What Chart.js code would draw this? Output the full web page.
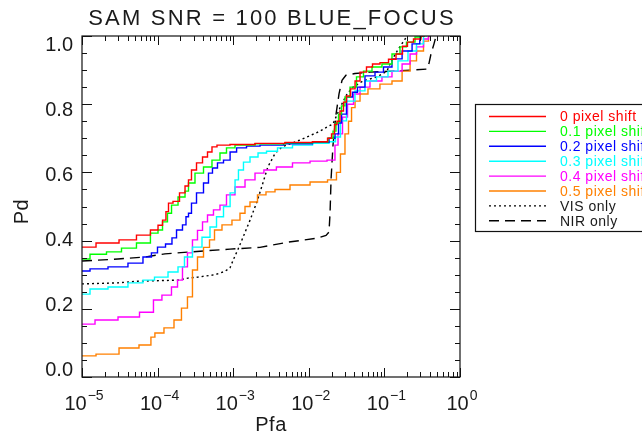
<!DOCTYPE html>
<html>
<head>
<meta charset="utf-8">
<script src="https://cdn.jsdelivr.net/npm/chart.js@4.4.1/dist/chart.umd.min.js"></script>
<style>
  html, body { margin: 0; padding: 0; background: #fff; }
  canvas { display: block; }
</style>
</head>
<body>
<canvas id="rocChart" width="642" height="436"></canvas>
<script>
const chartTitle = "SAM SNR = 100 BLUE_FOCUS";
const xTitle = "Pfa";
const yTitle = "Pd";
const xExponents = [-5, -4, -3, -2, -1, 0];
const yTickLabels = ["0.0", "0.2", "0.4", "0.6", "0.8", "1.0"];
const seriesLabels = ["0 pixel shift", "0.1 pixel shift", "0.2 pixel shift", "0.3 pixel shift",
    "0.4 pixel shift", "0.5 pixel shift", "VIS only", "NIR only"];

// 0 pixel shift
const pfa0 = [1e-5, 2.35e-5, 4.06e-5, 6.8e-5, 9.5e-5, 1.08e-4, 1.25e-4, 1.33e-4, 1.46e-4, 1.75e-4,
    2.17e-4, 2.45e-4, 2.68e-4, 2.94e-4, 3.64e-4, 4.24e-4, 4.93e-4, 5.57e-4, 6.69e-4, 1.23e-3,
    3.07e-3, 7.65e-3, 0.0164, 0.0191, 0.0209, 0.0229, 0.0243, 0.0275, 0.0301, 0.033,
    0.0385, 0.0435, 0.0521, 0.0645, 0.0751, 0.102, 0.126, 0.161, 0.187, 0.218, 0.27, 0.344];
const pd0 = [0.381, 0.393, 0.402, 0.416, 0.431, 0.445, 0.46, 0.485, 0.51, 0.515,
    0.54, 0.56, 0.578, 0.607, 0.628, 0.645, 0.66, 0.675, 0.68, 0.682,
    0.685, 0.688, 0.69, 0.70, 0.713, 0.74, 0.75, 0.78, 0.806, 0.824,
    0.845, 0.868, 0.894, 0.909, 0.918, 0.922, 0.932, 0.947, 0.97, 0.982, 0.991, 1.0];

// 0.1 pixel shift
const pfa1 = [1e-5, 1.63e-5, 2.73e-5, 4.06e-5, 6.8e-5, 9.5e-5, 1.08e-4, 1.25e-4, 1.46e-4, 1.6e-4,
    2.17e-4, 2.45e-4, 2.68e-4, 3.64e-4, 4.5e-4, 6.1e-4, 7.33e-4, 9.07e-4, 1.23e-3, 3.07e-3,
    7.65e-3, 0.0164, 0.0197, 0.0222, 0.0236, 0.0259, 0.0283, 0.032, 0.0385, 0.0475,
    0.0589, 0.0798, 0.108, 0.147, 0.176, 0.218, 0.296, 0.32];
const pd1 = [0.346, 0.36, 0.367, 0.378, 0.393, 0.422, 0.431, 0.455, 0.48, 0.504,
    0.528, 0.545, 0.569, 0.598, 0.616, 0.636, 0.657, 0.672, 0.68, 0.684,
    0.687, 0.69, 0.70, 0.721, 0.745, 0.771, 0.795, 0.821, 0.85, 0.88,
    0.897, 0.909, 0.918, 0.947, 0.968, 0.982, 0.997, 1.0];

// 0.2 pixel shift
const pfa2 = [1e-5, 1.63e-5, 2.99e-5, 5.5e-5, 7.46e-5, 9.2e-5, 1.08e-4, 1.5e-4, 1.6e-4, 1.98e-4,
    2.3e-4, 2.45e-4, 2.68e-4, 2.94e-4, 3.64e-4, 4.5e-4, 4.93e-4, 5.74e-4, 6.69e-4, 8.28e-4,
    1e-3, 1.23e-3, 1.83e-3, 2.8e-3, 7.65e-3, 0.0164, 0.0209, 0.0236, 0.0259, 0.0284,
    0.0351, 0.0408, 0.0475, 0.0645, 0.0875, 0.108, 0.147, 0.2, 0.27, 0.32];
const pd2 = [0.311, 0.317, 0.323, 0.334, 0.352, 0.364, 0.381, 0.39, 0.408, 0.431,
    0.446, 0.47, 0.48, 0.51, 0.54, 0.569, 0.598, 0.613, 0.628, 0.636,
    0.66, 0.672, 0.677, 0.68, 0.684, 0.688, 0.70, 0.713, 0.745, 0.771,
    0.821, 0.835, 0.85, 0.883, 0.894, 0.909, 0.933, 0.956, 0.977, 1.0];

// 0.3 pixel shift
const pfa3 = [1e-5, 1.63e-5, 2.99e-5, 5.5e-5, 7.46e-5, 1.11e-4, 1.7e-4, 2.04e-4, 2.52e-4, 3.32e-4,
    4.5e-4, 5.41e-4, 6.69e-4, 8.28e-4, 1e-3, 1.12e-3, 1.23e-3, 1.52e-3, 1.83e-3, 2.48e-3,
    3.07e-3, 4.84e-3, 7.65e-3, 0.0164, 0.0209, 0.0243, 0.0283, 0.0351, 0.0475, 0.0645,
    0.0957, 0.13, 0.176, 0.239, 0.296, 0.366];
const pd3 = [0.243, 0.258, 0.264, 0.276, 0.284, 0.293, 0.308, 0.323, 0.352, 0.381,
    0.41, 0.44, 0.47, 0.50, 0.54, 0.578, 0.607, 0.63, 0.645, 0.657,
    0.662, 0.672, 0.68, 0.685, 0.69, 0.704, 0.751, 0.809, 0.839, 0.868,
    0.88, 0.897, 0.927, 0.956, 0.977, 1.0];

// 0.4 pixel shift
const pfa4 = [1e-5, 2.21e-5, 4.06e-5, 8.18e-5, 9.5e-5, 1.37e-4, 1.7e-4, 1.98e-4, 2.3e-4, 2.68e-4,
    3.12e-4, 3.64e-4, 4.24e-4, 4.93e-4, 6.1e-4, 7.33e-4, 9.07e-4, 1.23e-3, 1.67e-3, 2.26e-3,
    2.87e-3, 4.84e-3, 7.65e-3, 0.0141, 0.0215, 0.0229, 0.0259, 0.0301, 0.0351, 0.0435,
    0.0521, 0.0798, 0.108, 0.147, 0.2, 0.239, 0.296, 0.366, 0.401];
const pd4 = [0.155, 0.167, 0.176, 0.19, 0.226, 0.24, 0.264, 0.284, 0.323, 0.364,
    0.402, 0.43, 0.455, 0.475, 0.49, 0.504, 0.534, 0.557, 0.578, 0.598,
    0.607, 0.616, 0.628, 0.633, 0.636, 0.68, 0.713, 0.762, 0.80, 0.83,
    0.85, 0.868, 0.88, 0.897, 0.918, 0.947, 0.968, 0.991, 1.0];

// 0.5 pixel shift
const pfa5 = [1e-5, 2.35e-5, 4.06e-5, 7.93e-5, 8.4e-5, 1.01e-4, 1.46e-4, 1.86e-4, 2.3e-4, 2.68e-4,
    3.12e-4, 3.64e-4, 4.5e-4, 5.25e-4, 6.1e-4, 8.28e-4, 1.12e-3, 1.35e-3, 1.52e-3, 1.83e-3,
    2.4e-3, 3.07e-3, 4.16e-3, 7.65e-3, 0.0141, 0.0222, 0.0243, 0.0283, 0.032, 0.0351,
    0.0385, 0.0435, 0.0521, 0.0706, 0.108, 0.147, 0.2, 0.239, 0.296, 0.366, 0.401];
const pd5 = [0.062, 0.067, 0.085, 0.094, 0.117, 0.129, 0.144, 0.167, 0.202, 0.235,
    0.314, 0.352, 0.38, 0.402, 0.431, 0.446, 0.46, 0.48, 0.50, 0.513,
    0.534, 0.543, 0.55, 0.563, 0.572, 0.578, 0.60, 0.654, 0.713, 0.75,
    0.79, 0.809, 0.83, 0.845, 0.859, 0.868, 0.897, 0.927, 0.956, 0.985, 1.0];

// VIS only
const pfaVis = [1e-5, 2.99e-5, 5.5e-5, 1.86e-4, 2.52e-4, 3.42e-4, 5.74e-4, 7.79e-4, 9.07e-4, 1e-3,
    1.16e-3, 1.35e-3, 1.67e-3, 2.07e-3, 2.48e-3, 2.87e-3, 3.57e-3, 4.43e-3, 7.65e-3, 0.0141,
    0.0174, 0.0209, 0.0259, 0.032, 0.0385, 0.0521, 0.0798, 0.108, 0.126, 0.151, 0.2];
const pdVis = [0.273, 0.276, 0.281, 0.284, 0.29, 0.293, 0.30, 0.31, 0.32, 0.343,
    0.375, 0.41, 0.46, 0.515, 0.57, 0.616, 0.655, 0.675, 0.695, 0.721,
    0.733, 0.742, 0.79, 0.83, 0.85, 0.868, 0.88, 0.897, 0.93, 0.96, 1.0];

// NIR only
const pfaNir = [1e-5, 2.99e-5, 6.8e-5, 1.25e-4, 2.77e-4, 9.07e-4, 2.26e-3, 5.15e-3, 0.0128, 0.0169,
    0.0185, 0.0191, 0.0197, 0.0209, 0.0229, 0.0251, 0.0275, 0.031, 0.0408, 0.0645,
    0.13, 0.366, 0.389, 0.413, 0.453, 0.482];
const pdNir = [0.34, 0.346, 0.352, 0.361, 0.367, 0.375, 0.38, 0.395, 0.407, 0.415,
    0.425, 0.48, 0.58, 0.68, 0.77, 0.83, 0.87, 0.885, 0.89, 0.894,
    0.897, 0.903, 0.92, 0.947, 0.977, 1.0];

const seriesPfa = [pfa0, pfa1, pfa2, pfa3, pfa4, pfa5, pfaVis, pfaNir];
const seriesPd = [pd0, pd1, pd2, pd3, pd4, pd5, pdVis, pdNir];
const lineColors = ["#ff0000", "#00ff00", "#0000ff", "#00ffff", "#ff00ff", "#ff8000", "#000000", "#000000"];
const lineDashes = [[], [], [], [], [], [], [2, 3], [10, 6]];

const FONT = "'Liberation Sans', Arial, Helvetica, sans-serif";
const TEXT = "#1a1a1a";

function toPoints(xs, ys) {
    return xs.map((v, i) => ({ x: v, y: ys[i] }));
}

const datasets = seriesLabels.map((label, i) => ({
    label: label,
    data: toPoints(seriesPfa[i], seriesPd[i]),
    borderColor: lineColors[i],
    borderWidth: 1.4,
    borderDash: lineDashes[i],
    stepped: i < 6 ? "middle" : false,
    tension: 0,
    pointRadius: 0,
    fill: false
}));

function drawText(ctx, text, x, y, size, align, color, spacing) {
    ctx.font = size + "px " + FONT;
    ctx.fillStyle = color || TEXT;
    ctx.textAlign = align || "center";
    ctx.textBaseline = "middle";
    ctx.letterSpacing = (spacing || 0) + "px";
    ctx.fillText(text, x, y);
    ctx.letterSpacing = "0px";
}

// IDL style frame, inward ticks, labels and the boxed legend
const idlAxes = {
    id: "idlAxes",
    afterDraw(chart) {
        const ctx = chart.ctx;
        const a = chart.chartArea;
        const xs = chart.scales.x;
        const ys = chart.scales.y;
        ctx.save();

        ctx.strokeStyle = "#111";
        ctx.lineWidth = 1.2;
        ctx.strokeRect(a.left, a.top, a.right - a.left, a.bottom - a.top);

        ctx.lineWidth = 1;
        ctx.beginPath();
        xExponents.forEach(e => {
            for (let m = 1; m <= 9; m++) {
                if (e === 0 && m > 1) break;
                const px = Math.round(xs.getPixelForValue(m * Math.pow(10, e))) + 0.5;
                const len = m === 1 ? 9 : 5;
                ctx.moveTo(px, a.bottom); ctx.lineTo(px, a.bottom - len);
                ctx.moveTo(px, a.top); ctx.lineTo(px, a.top + len);
            }
        });
        for (let k = 0; k <= 20; k++) {
            const py = Math.round(ys.getPixelForValue(k * 0.05)) + 0.5;
            const len = k % 4 === 0 ? 10 : 5;
            ctx.moveTo(a.left, py); ctx.lineTo(a.left + len, py);
            ctx.moveTo(a.right, py); ctx.lineTo(a.right - len, py);
        }
        ctx.stroke();

        // y tick labels (the original sits them slightly inside the axis ends)
        yTickLabels.forEach((lab, i) => {
            const v = i * 0.2;
            const py = ys.getPixelForValue(v);
            drawText(ctx, lab, a.left - 9, py - 7 + 16 * v, 20, "right", TEXT, 0);
        });

        // x tick labels 10^n
        xExponents.forEach(e => {
            const px = xs.getPixelForValue(Math.pow(10, e));
            ctx.font = "20px " + FONT;
            const wBase = ctx.measureText("10").width;
            const sup = e < 0 ? "\u2212" + Math.abs(e) : String(e);
            ctx.font = "14px " + FONT;
            const wSup = ctx.measureText(sup).width;
            const left = px - (wBase + 1 + wSup) / 2 + 2;
            drawText(ctx, "10", left, a.bottom + 27, 20, "left", TEXT, 0);
            drawText(ctx, sup, left + wBase + 1, a.bottom + 19, 14, "left", TEXT, 0);
        });

        // titles
        const cx = (a.left + a.right) / 2;
        drawText(ctx, chartTitle, cx + 1, 19, 22, "center", TEXT, 2.2);
        drawText(ctx, xTitle, cx, a.bottom + 48, 20, "center", TEXT, 0.5);
        ctx.save();
        ctx.translate(22, (a.top + a.bottom) / 2 + 5);
        ctx.rotate(-Math.PI / 2);
        drawText(ctx, yTitle, 0, 0, 20, "center", TEXT, 0.5);
        ctx.restore();

        // legend
        const lx = a.right + 15;
        const ly = 104;
        ctx.strokeStyle = "#111";
        ctx.lineWidth = 1.2;
        ctx.setLineDash([]);
        ctx.strokeRect(lx + 0.5, ly + 0.5, 200, 127);
        seriesLabels.forEach((lab, i) => {
            const rowY = ly + 12.5 + i * 14.9;
            ctx.strokeStyle = lineColors[i];
            ctx.lineWidth = 1.4;
            ctx.setLineDash(lineDashes[i]);
            ctx.beginPath();
            ctx.moveTo(lx + 14, rowY);
            ctx.lineTo(lx + 71, rowY);
            ctx.stroke();
            ctx.setLineDash([]);
            drawText(ctx, lab, lx + 85, rowY + 1, 14, "left", i < 6 ? lineColors[i] : TEXT, 0.5);
        });

        ctx.restore();
    }
};

new Chart(document.getElementById("rocChart"), {
    type: "line",
    data: { datasets: datasets },
    options: {
        responsive: false,
        animation: false,
        layout: { padding: { left: 82, right: 182, top: 36, bottom: 59 } },
        scales: {
            x: { type: "logarithmic", min: 1e-5, max: 1, display: false },
            y: { type: "linear", min: 0, max: 1, display: false }
        },
        plugins: {
            legend: { display: false },
            tooltip: { enabled: false }
        }
    },
    plugins: [idlAxes]
});
</script>
</body>
</html>
